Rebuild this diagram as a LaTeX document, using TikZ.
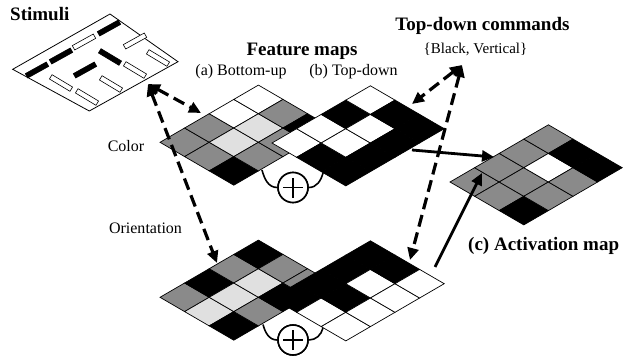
\documentclass[tikz,border=0pt]{standalone}
\usepackage{fontspec}
\setmainfont{Liberation Serif}
\usetikzlibrary{arrows.meta,calc}
\definecolor{mg}{gray}{0.54}
\definecolor{lg}{gray}{0.88}
\tikzset{
  cell/.style={draw=black, line width=0.7pt},
  title/.style={font=\fontsize{19}{22}\selectfont\bfseries, inner sep=0pt},
  lab/.style={font=\fontsize{16}{19}\selectfont, inner sep=0pt},
  small/.style={font=\fontsize{15}{17}\selectfont, inner sep=0pt},
  dasharrow/.style={line width=3.2pt, dash pattern=on 12pt off 6pt,
    {Triangle[length=12pt,width=11pt]}-{Triangle[length=12pt,width=11pt]}},
  solidarrow/.style={line width=2.8pt, -{Triangle[length=12pt,width=11pt]}},
  sumc/.style={circle, draw, fill=white, line width=1.6pt, minimum size=30pt, inner sep=0pt},
  sumline/.style={line width=1.6pt},
  barblack/.style={fill=black, draw=black, line width=0.6pt},
  barwhite/.style={fill=white, draw=black, line width=0.6pt},
}
\newcommand\drawmap[3]{%
  \begin{scope}[shift={(#1,#2)}, x={(24.6pt,14.3pt)}, y={(24.6pt,-14.3pt)}]
    \foreach \c [count=\n from 0] in {#3} {
      \pgfmathtruncatemacro\ii{mod(\n,4)}
      \pgfmathtruncatemacro\jj{div(\n,4)}
      \filldraw[cell, fill=\c] (\ii,\jj) -- ++(1,0) -- ++(0,1) -- ++(-1,0) -- cycle;
    }
  \end{scope}
}
\newcommand\stimbar[4]{% x, y, angle, style
  \begin{scope}[shift={(#1,#2)}, rotate=#3]
    \filldraw[#4] (-12,-2.5) rectangle (12,2.5);
  \end{scope}
}
\begin{document}
\begin{tikzpicture}[x=1pt, y=-1pt]
\fill[white] (0,0) rectangle (631,361);
\useasboundingbox (0,0) rectangle (631,361);

% Stimuli panel
\draw[line width=0.8pt] (12.7,69.3) -- (110,14) -- (178,61.7) -- (89.3,111) -- cycle;
\stimbar{37}{70}{29}{barblack}
\stimbar{61}{56}{29}{barblack}
\stimbar{84}{42}{29}{barwhite}
\stimbar{109}{28}{29}{barblack}
\stimbar{61}{83}{-31}{barwhite}
\stimbar{85}{70}{29}{barblack}
\stimbar{110}{57}{-31}{barblack}
\stimbar{135}{41}{29}{barwhite}
\stimbar{87}{97}{-31}{barwhite}
\stimbar{111}{84}{-31}{barwhite}
\stimbar{135}{70}{-31}{barwhite}
\stimbar{158}{58}{-31}{barwhite}

% Feature maps
\drawmap{160}{142.3}{mg,mg,white,white, mg,lg,lg,mg, black,mg,mg,black}
\drawmap{272}{143}{white,white,black,white, black,white,white,black, black,black,black,black}
\drawmap{160}{297.3}{mg,black,mg,black, lg,lg,lg,mg, black,mg,black,mg}
\drawmap{272}{298}{black,black,black,black, white,black,white,black, white,white,white,white}
% Activation map
\drawmap{450}{182}{mg,mg,mg,mg, mg,mg,white,black, black,mg,mg,black}

% Summation symbols
\coordinate (arcCL) at (262,170);
\coordinate (arcCR) at (323,173);
\coordinate (arcOL) at (263,324.5);
\coordinate (arcOR) at (323,328);
\node[sumc] (sumC) at (293,187.5) {};
\node[sumc] (sumO) at (293,340) {};
\draw[sumline] (arcCL) to[out=-75,in=180] (sumC.west);
\draw[sumline] (sumC.east) to[out=0,in=-105] (arcCR);
\draw[sumline] (arcOL) to[out=-75,in=180] (sumO.west);
\draw[sumline] (sumO.east) to[out=0,in=-105] (arcOR);
\node[sumc] at (sumC) {};
\node[sumc] at (sumO) {};
\draw[sumline] ([xshift=-10pt]sumC.center) -- ([xshift=10pt]sumC.center);
\draw[sumline] ([yshift=-10pt]sumC.center) -- ([yshift=10pt]sumC.center);
\draw[sumline] ([xshift=-10pt]sumO.center) -- ([xshift=10pt]sumO.center);
\draw[sumline] ([yshift=-10pt]sumO.center) -- ([yshift=10pt]sumO.center);

% Texts
\node[title, anchor=base west] (tStim) at (10,20.5) {Stimuli};
\node[title, anchor=base] (tTop) at (482.5,31) {Top-down commands};
\node[small, anchor=base] (tBV) at (475.5,53) {\{Black, Vertical\}};
\node[title, anchor=base] (tFeat) at (302,56) {Feature maps};
\node[lab, anchor=base] (tA) at (241,75) {(a) Bottom-up};
\node[lab, anchor=base] (tB) at (353.5,75) {(b) Top-down};
\node[lab, anchor=base] (tColor) at (126,151) {Color};
\node[lab, anchor=base] (tOrient) at (145.5,233) {Orientation};
\node[title, anchor=base west] (tAct) at (468,250) {(c) Activation map};

% Arrows
\coordinate (S) at (148,84);
\coordinate (cA) at (201,113);
\coordinate (oA) at (217,263);
\coordinate (T) at (462,65);
\coordinate (cB) at (412,104);
\coordinate (oB) at (410,260);
\coordinate (cOut) at (412,150);
\coordinate (act1) at (494,157);
\coordinate (oOut) at (435,267);
\coordinate (act2) at (482,173);
\draw[dasharrow] (S) -- (cA);
\draw[dasharrow] (S) -- (oA);
\draw[dasharrow] (T) -- (cB);
\draw[dasharrow] (T) -- (oB);
\draw[solidarrow] (cOut) -- (act1);
\draw[solidarrow] (oOut) -- (act2);
\end{tikzpicture}
\end{document}
